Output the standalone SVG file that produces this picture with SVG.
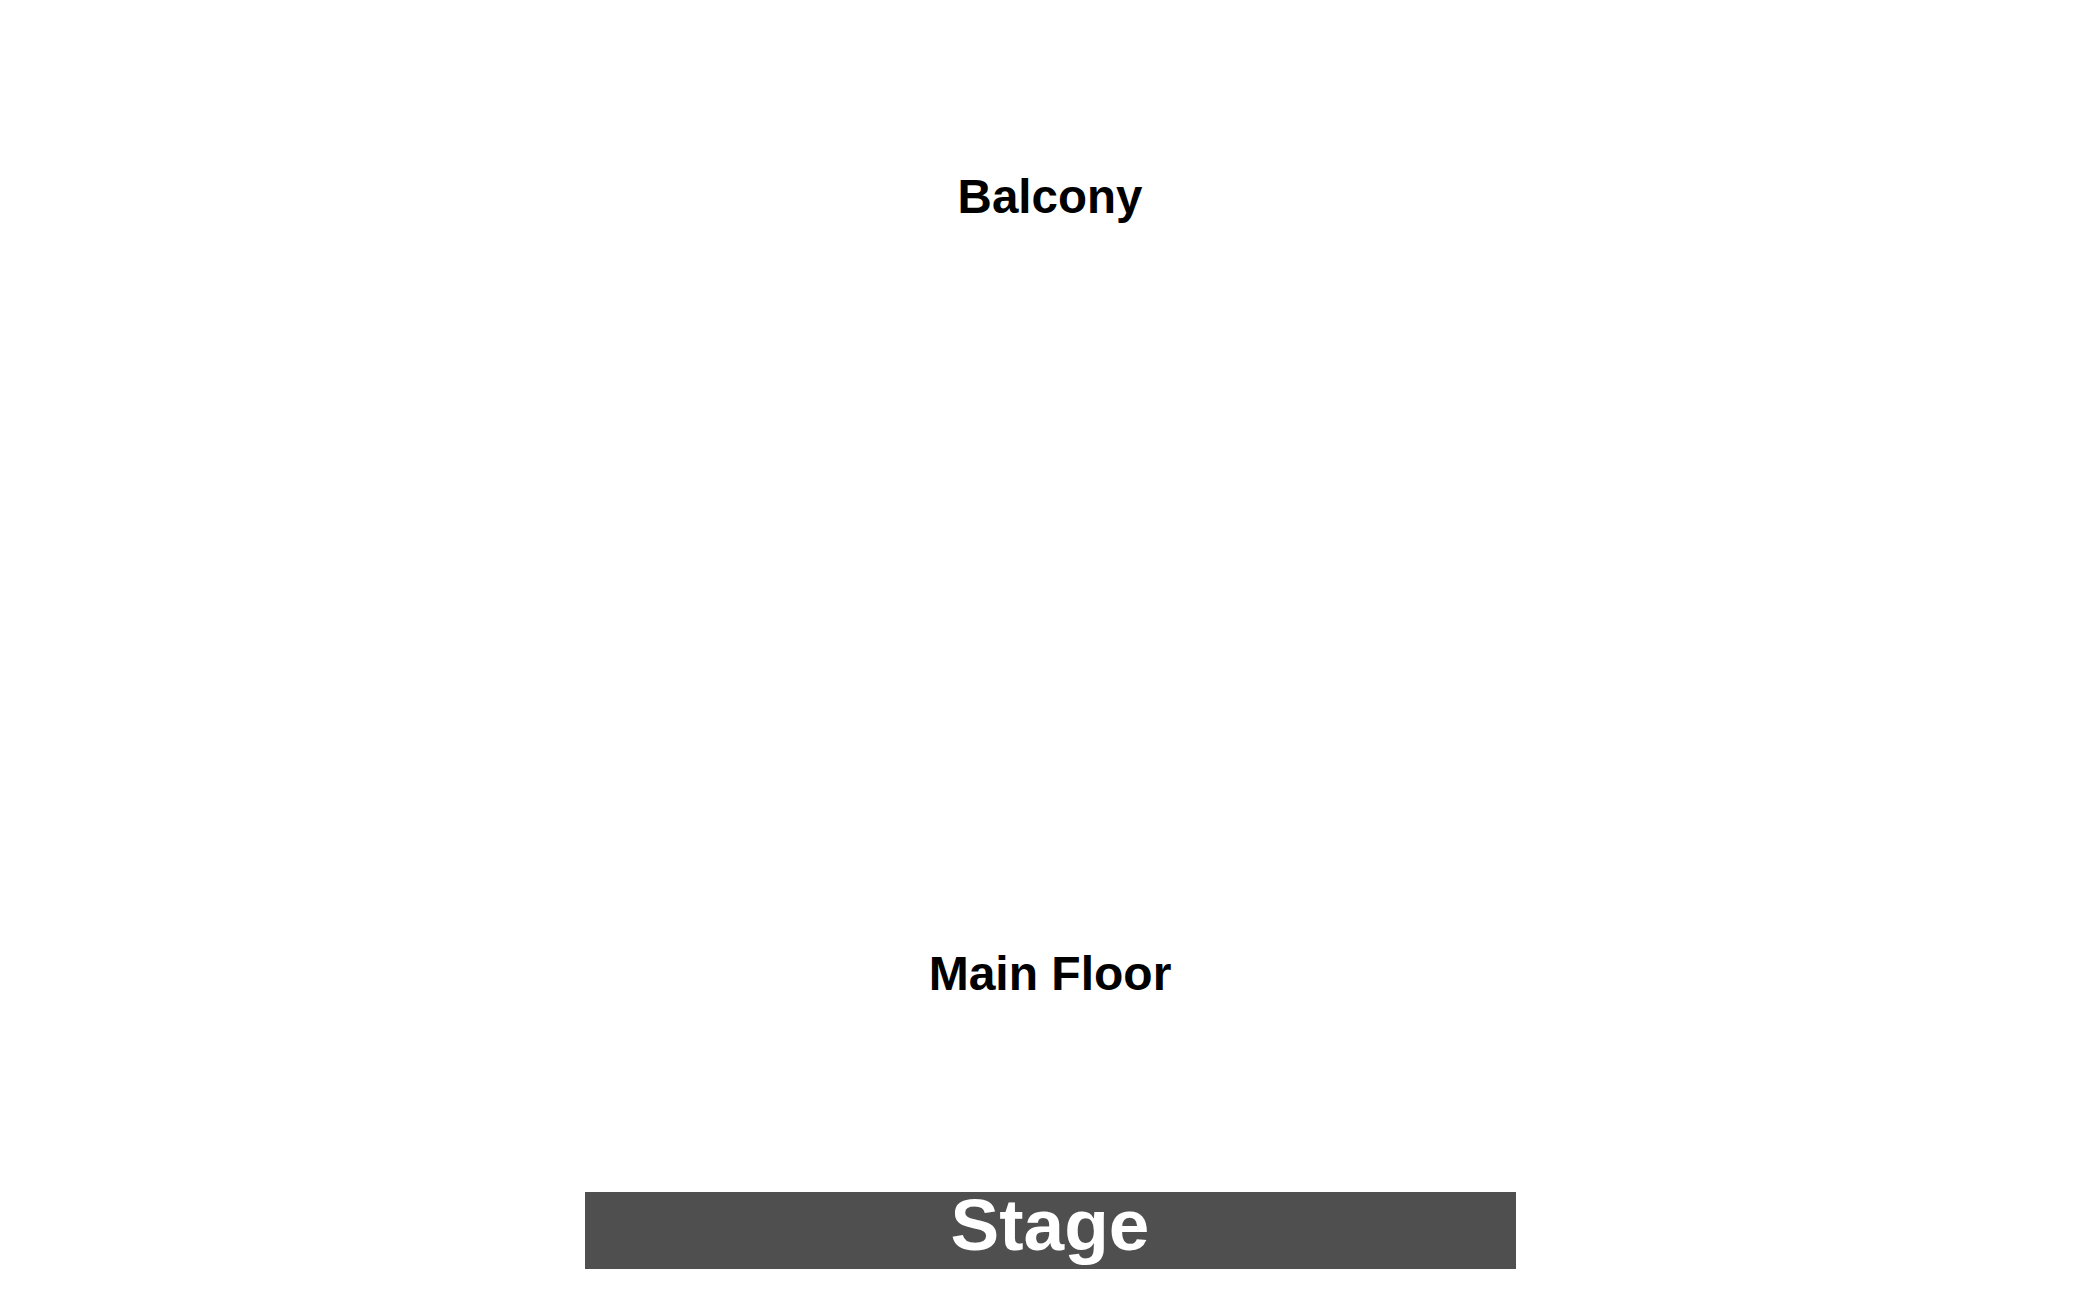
<svg xmlns="http://www.w3.org/2000/svg" width="2100" height="1300" viewBox="0 0 2100 1300">
<style>
.lbl{font-family:"Liberation Sans",Arial,sans-serif;font-weight:bold;text-anchor:middle}
</style>
<rect x="0" y="0" width="2100" height="1300" fill="#ffffff"/>
<g id="balcony"><text class="lbl" x="1050" y="213" font-size="47.5" fill="#000000">Balcony</text></g>
<g id="main-floor"><text class="lbl" x="1050" y="990" font-size="48" fill="#000000">Main Floor</text></g>
<g id="stage">
<rect x="585" y="1192" width="931" height="77" fill="#4f4f4f"/>
<text class="lbl" x="1050" y="1250" font-size="73" fill="#ffffff">Stage</text>
</g>
<g id="connectors"></g>
</svg>
